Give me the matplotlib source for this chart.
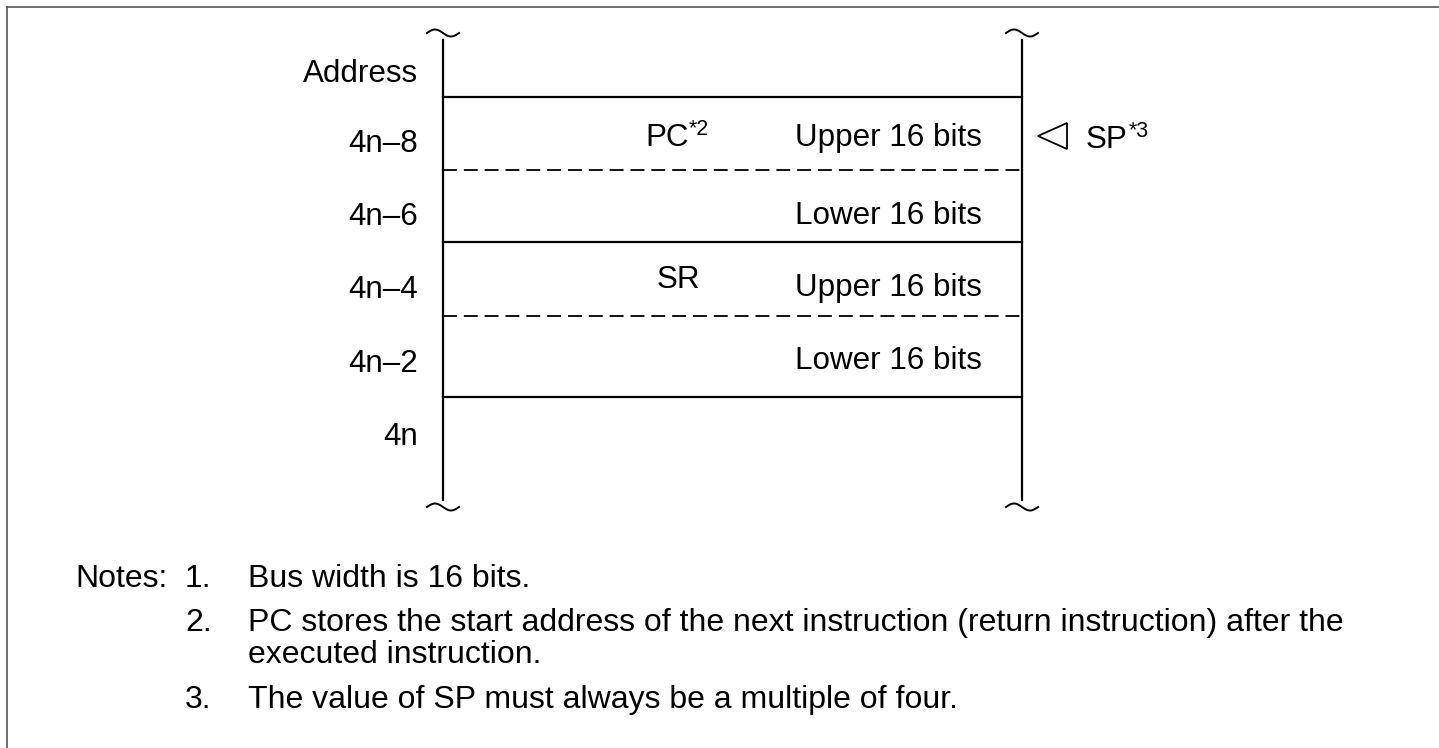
import numpy as np
import matplotlib
matplotlib.use("Agg")
import matplotlib.pyplot as plt
from matplotlib.patches import Polygon

plt.rcParams['font.family'] = ['Liberation Sans', 'DejaVu Sans']
plt.rcParams['lines.scale_dashes'] = False

# stack frame content
addr_labels = ['Address', '4n\u20138', '4n\u20136', '4n\u20134', '4n\u20132', '4n']
half_labels = ['Upper 16 bits', 'Lower 16 bits', 'Upper 16 bits', 'Lower 16 bits']
reg_names = ['PC', 'SR']
reg_marks = ['*2', '']
sp_name, sp_mark = 'SP', '*3'
note_nums = ['1.', '2.', '', '3.']
note_lines = ['Bus width is 16 bits.',
              'PC stores the start address of the next instruction (return instruction) after the',
              'executed instruction.',
              'The value of SP must always be a multiple of four.']

# layout (pixels, y down)
W, H = 1439, 748
x_left, x_right = 443, 1022
y_top, y_bot = 40, 500
addr_y = [74, 144, 217, 290, 364, 437]
half_y = [138, 216, 288, 361]
reg_y = [138, 280]
reg_x = [645, 657]
sep_y = [97, 170, 242, 316, 397]
sep_solid = [True, False, True, False, True]
note_y = [579, 623, 655, 700]

fig = plt.figure(figsize=(W / 100, H / 100), dpi=100)
ax = fig.add_axes([0, 0, 1, 1])
ax.set_xlim(0, W)
ax.set_ylim(H, 0)
ax.axis('off')

lw = 1.6
fs = 22.6
fs_note = 23
fs_sup = 15.5

# outer frame (top and left only)
ax.plot([7, W], [7, 7], color='#555555', lw=1.2)
ax.plot([7, 7], [7, H], color='#555555', lw=1.2)

# vertical walls and break marks
t = np.linspace(0, 1, 60)
for xv in (x_left, x_right):
    ax.plot([xv, xv], [y_top, y_bot], color='black', lw=lw)
    for yt in (33, 507):
        ax.plot(xv - 16 + 32 * t, yt - 3.5 * np.sin(2 * np.pi * t), color='black', lw=1.4)

# separators
for y, solid in zip(sep_y, sep_solid):
    if solid:
        ax.plot([x_left, x_right], [y, y], color='black', lw=lw)
    else:
        ax.plot([x_left, x_right], [y, y], color='black', lw=1.3, dashes=[10, 5])

# address column
for lab, y in zip(addr_labels, addr_y):
    ax.text(418, y, lab, ha='right', va='center', fontsize=fs)

# halves
for lab, y in zip(half_labels, half_y):
    ax.text(982, y, lab, ha='right', va='center', fontsize=fs)

# register names with note marks
for name, mark, y, x0 in zip(reg_names, reg_marks, reg_y, reg_x):
    tx = ax.text(x0, y, name, ha='left', va='center', fontsize=fs)
    if mark:
        ax.annotate(mark, xy=(1.0, 0.8), xycoords=tx, xytext=(0.5, 0),
                    textcoords='offset points', ha='left', va='center', fontsize=fs_sup)

# stack pointer marker
ax.add_patch(Polygon([[1067, 123], [1038, 136], [1067, 149]], closed=True,
                     fill=False, edgecolor='black', lw=1.3))
sp = ax.text(1086, 140, sp_name, ha='left', va='center', fontsize=fs)
ax.annotate(sp_mark, xy=(1.0, 0.8), xycoords=sp, xytext=(0.5, 0),
            textcoords='offset points', ha='left', va='center', fontsize=fs_sup)

# notes
ax.text(75, note_y[0], 'Notes:', ha='left', va='center', fontsize=fs_note)
for num, line, y in zip(note_nums, note_lines, note_y):
    if num:
        ax.text(185, y, num, ha='left', va='center', fontsize=fs_note)
    ax.text(248, y, line, ha='left', va='center', fontsize=fs_note)

fig.savefig('out.png', dpi=100)
